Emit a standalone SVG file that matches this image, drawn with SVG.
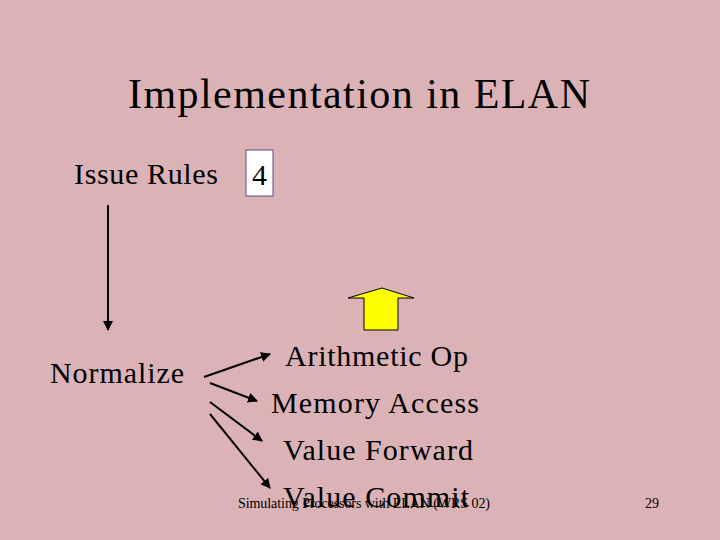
<svg xmlns="http://www.w3.org/2000/svg" width="720" height="540" viewBox="0 0 720 540">
<defs>
<marker id="ah" viewBox="0 0 10 10" refX="9" refY="5" markerWidth="5" markerHeight="5" orient="auto"><path d="M0,0 L10,5 L0,10 z" fill="#000"/></marker>
<style>
text{font-family:"Liberation Serif",serif;fill:#000}
.l{font-size:30px}
.c{stroke:#000;stroke-width:2;fill:none;marker-end:url(#ah)}
</style>
</defs>
<rect width="720" height="540" fill="#dbb3b7"/>
<text x="128" y="108" font-size="42" textLength="462" lengthAdjust="spacing">Implementation in  ELAN</text>
<g id="issue"><text class="l" x="74" y="184" textLength="144" lengthAdjust="spacing">Issue Rules</text></g>
<g id="four"><rect x="246" y="150" width="27" height="46" fill="#fff" stroke="#5a4a8a"/><text class="l" x="259.5" y="185" text-anchor="middle">4</text></g>
<g id="normalize"><text class="l" x="50" y="383" textLength="134" lengthAdjust="spacing">Normalize</text></g>
<g id="arith"><text class="l" x="285" y="366" textLength="183" lengthAdjust="spacing">Arithmetic Op</text></g>
<g id="mem"><text class="l" x="271" y="413" textLength="208" lengthAdjust="spacing">Memory Access</text></g>
<g id="fwd"><text class="l" x="283" y="460" textLength="190" lengthAdjust="spacing">Value Forward</text></g>
<g id="commit"><text class="l" x="283" y="507" textLength="186" lengthAdjust="spacing">Value Commit</text></g>
<g id="uparrow"><path d="M382,288 L414,298 L398,298 L398,330 L364,330 L364,298 L348,298 Z" fill="#ffff00" stroke="#000"/></g>
<g id="connectors">
<path class="c" d="M108,205 L108,330"/>
<path class="c" d="M204,377 L270,354"/>
<path class="c" d="M210,383 L257,401"/>
<path class="c" d="M210,402 L262,441"/>
<path class="c" d="M210,414 L270,488"/>
</g>
<text x="238" y="508" font-size="14" textLength="252" lengthAdjust="spacing">Simulating Processors with ELAN (WRS 02)</text>
<text x="645" y="508" font-size="14">29</text>
</svg>
